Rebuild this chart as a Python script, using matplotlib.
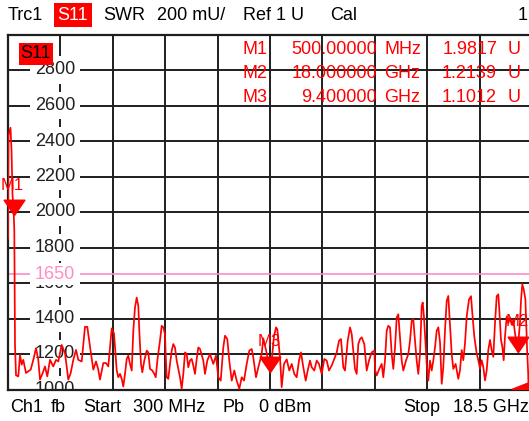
import matplotlib
matplotlib.use("Agg")
import matplotlib.pyplot as plt
from matplotlib.path import Path
import numpy as np

# ---------------- data ----------------
freq_ghz = [
    0.300, 0.317, 0.387, 0.422, 0.456, 0.500, 0.519, 0.543, 0.578, 0.658,
    0.717, 0.776, 0.831, 0.925, 1.005, 1.088, 1.179, 1.273, 1.352, 1.411,
    1.505, 1.585, 1.665, 1.759, 1.873, 1.967, 2.047, 2.165, 2.280, 2.394,
    2.478, 2.568, 2.662, 2.742, 2.860, 2.974, 3.054, 3.148, 3.263, 3.357,
    3.436, 3.495, 3.610, 3.704, 3.784, 3.902, 3.982, 4.076, 4.131, 4.190,
    4.249, 4.305, 4.364, 4.423, 4.478, 4.537, 4.597, 4.652, 4.711, 4.770,
    4.826, 4.860, 4.919, 4.965, 5.034, 5.118, 5.173, 5.232, 5.312, 5.381,
    5.430, 5.500, 5.579, 5.638, 5.694, 5.753, 5.777, 5.812, 5.868, 5.927,
    5.986, 6.041, 6.100, 6.159, 6.215, 6.274, 6.333, 6.389, 6.448, 6.507,
    6.562, 6.621, 6.680, 6.736, 6.795, 6.854, 6.910, 6.969, 7.083, 7.142,
    7.222, 7.316, 7.431, 7.524, 7.604, 7.688, 7.778, 7.837, 7.917, 7.986,
    8.070, 8.160, 8.244, 8.334, 8.417, 8.497, 8.591, 8.681, 8.765, 8.820,
    8.914, 8.994, 9.112, 9.167, 9.285, 9.348, 9.400, 9.469, 9.539, 9.609,
    9.654, 9.747, 9.806, 9.886, 9.980, 10.070, 10.154, 10.244, 10.327, 10.407,
    10.477, 10.557, 10.640, 10.710, 10.790, 10.849, 10.939, 11.022, 11.102, 11.196,
    11.286, 11.370, 11.449, 11.543, 11.633, 11.717, 11.797, 11.866, 11.946, 12.005,
    12.099, 12.179, 12.238, 12.293, 12.352, 12.411, 12.467, 12.526, 12.585, 12.675,
    12.759, 12.839, 12.932, 13.023, 13.053, 13.106, 13.195, 13.279, 13.335, 13.394,
    13.453, 13.509, 13.568, 13.627, 13.683, 13.742, 13.801, 13.856, 13.915, 13.974,
    14.030, 14.124, 14.204, 14.263, 14.322, 14.377, 14.436, 14.495, 14.551, 14.610,
    14.669, 14.704, 14.749, 14.784, 14.843, 14.898, 14.957, 15.016, 15.072, 15.131,
    15.190, 15.246, 15.305, 15.364, 15.419, 15.478, 15.537, 15.593, 15.652, 15.711,
    15.766, 15.847, 15.940, 15.999, 16.058, 16.114, 16.173, 16.232, 16.312, 16.381,
    16.427, 16.496, 16.579, 16.635, 16.694, 16.753, 16.809, 16.868, 16.927, 16.982,
    17.041, 17.100, 17.156, 17.215, 17.274, 17.330, 17.364, 17.423, 17.469, 17.517,
    17.562, 17.621, 17.677, 17.736, 17.795, 17.851, 17.910, 18.000, 18.083, 18.117,
    18.163, 18.212, 18.271, 18.330, 18.365, 18.400, 18.500,
]
swr_mu = [
    1850, 2430, 2475, 2350, 2100, 1982, 1900, 1250, 1080, 1074,
    1195, 1140, 1167, 1093, 1102, 1112, 1167, 1233, 1167, 1056,
    1093, 1130, 1074, 1167, 1130, 1167, 1158, 1251, 1205, 1056,
    1093, 1167, 1223, 1167, 1158, 1353, 1353, 1242, 1112, 1158,
    1112, 1056, 1149, 1149, 1130, 1344, 1316, 1107, 1069, 1088,
    1060, 1017, 1088, 1172, 1191, 1144, 1107, 1331, 1462, 1518,
    1471, 1331, 1144, 1097, 1163, 1219, 1209, 1116, 1107, 1088,
    1069, 1181, 1275, 1359, 1350, 1312, 1200, 1069, 1060, 1144,
    1219, 1256, 1237, 1163, 1116, 1069, 1004, 1088, 1209, 1200,
    1125, 1163, 1172, 1135, 1088, 1172, 1237, 1228, 1163, 1088,
    1163, 1200, 1144, 1191, 1069, 1050, 1237, 1303, 1284, 1163,
    1050, 1107, 1050, 1004, 1069, 1050, 1144, 1219, 1228, 1181,
    1069, 1125, 1200, 1288, 1205, 1150, 1101, 1180, 1300, 1350,
    1340, 1181, 1013, 1144, 1170, 1107, 1144, 1088, 1069, 1163,
    1209, 1125, 1050, 1107, 1163, 1125, 1107, 1163, 1144, 1088,
    1172, 1163, 1107, 1135, 1172, 1209, 1275, 1284, 1125, 1107,
    1275, 1350, 1312, 1219, 1116, 1088, 1256, 1284, 1294, 1256,
    1107, 1163, 1209, 1219, 1107, 1079, 1116, 1144, 1069, 1163,
    1331, 1359, 1350, 1200, 1116, 1237, 1406, 1424, 1294, 1163,
    1107, 1163, 1200, 1275, 1387, 1396, 1275, 1163, 1088, 1200,
    1471, 1490, 1406, 1312, 1144, 1050, 1163, 1107, 1163, 1237,
    1331, 1350, 1266, 1032, 1125, 1331, 1499, 1527, 1368, 1200,
    1116, 1144, 1060, 1108, 1222, 1165, 1260, 1412, 1507, 1526,
    1431, 1298, 1203, 1165, 1118, 1165, 1127, 1051, 1108, 1222,
    1279, 1222, 1184, 1374, 1526, 1536, 1450, 1279, 1241, 1165,
    1298, 1412, 1374, 1403, 1365, 1393, 1317, 1214, 1380, 1498,
    1593, 1564, 1507, 1222, 1100, 900, 900,
]

y_ticks = [1000, 1200, 1400, 1600, 1800, 2000, 2200, 2400, 2600, 2800]
limit_value = 1650

marker_names = ["M1", "M2", "M3"]
marker_freq = [0.5, 18.0, 9.4]
marker_value = [1981.7, 1213.9, 1101.2]
marker_freq_txt = ["500.00000", "18.000000", "9.400000"]
marker_unit = ["MHz", "GHz", "GHz"]
marker_val_txt = ["1.9817", "1.2139", "1.1012"]

wedge_f = [17.8, 18.5, 19.2]
wedge_v = [1000, 1045, 1000]

# ---------------- figure ----------------
plt.rcParams["font.family"] = ["Liberation Sans", "DejaVu Sans"]
FS = 13
W, H = 529, 421
fig = plt.figure(figsize=(W / 100, H / 100), dpi=100)
fig.patch.set_facecolor("white")

def fx(px):
    return px / W

def fy(py):
    return 1 - py / H

ax_left, ax_right, ax_top, ax_bot = 8, 532, 34.5, 389.5
ax = fig.add_axes([fx(ax_left), fy(ax_bot), (ax_right - ax_left) / W, (ax_bot - ax_top) / H])
ax.set_xlim(0.3, 18.5)
ax.set_ylim(1000, 3000)
ax.set_xticks(np.linspace(0.3, 18.5, 11))
ax.set_yticks(np.arange(1000, 3001, 200))
ax.tick_params(length=0, labelbottom=False, labelleft=False)
ax.set_axisbelow(True)
gcol = "#1e1e1e"
ax.grid(True, color=gcol, lw=1.4)
for s in ax.spines.values():
    s.set_color(gcol)
    s.set_linewidth(1.6)

red = "#ff0000"
pink = "#ff8cc6"

# y tick labels drawn inside the grid with white boxes
xlab = (55 - ax_left) / (ax_right - ax_left)
for v in y_ticks:
    ax.text(xlab, v, str(v), transform=ax.get_yaxis_transform(), ha="center", va="center",
            fontsize=FS, color="#202020", zorder=1.6, clip_on=True,
            bbox=dict(boxstyle="square,pad=0.28", fc="white", ec="none"))

# limit line
ax.axhline(limit_value, color=pink, lw=1.2, zorder=1.2)
ax.text(xlab, limit_value, str(limit_value), transform=ax.get_yaxis_transform(), ha="center",
        va="center", fontsize=FS, color=pink, zorder=1.7,
        bbox=dict(boxstyle="square,pad=0.12", fc="white", ec="none"))

# trace
ax.plot(freq_ghz, swr_mu, color=red, lw=1.25, zorder=3)

# markers (downward triangles, tip on the trace)
tri = Path([(-0.68, 1.0), (0.68, 1.0), (0.0, 0.0), (-0.68, 1.0)],
           [Path.MOVETO, Path.LINETO, Path.LINETO, Path.CLOSEPOLY])
ax.plot(marker_freq, marker_value, linestyle="none", marker=tri, markersize=22,
        color=red, zorder=4, clip_on=False)

# marker labels near the triangles
lab_pos = {"M1": (12, 185), "M2": (517, 322), "M3": (269, 342)}
for n in marker_names:
    px, py = lab_pos[n]
    fig.text(fx(px), fy(py), n, ha="center", va="center", fontsize=12, color=red, zorder=5)

# wedge at bottom right
ax.fill(wedge_f, wedge_v, color=red, zorder=4, clip_on=True)

# S11 tag inside the diagram
fig.text(fx(36), fy(54), "S11", ha="center", va="center", fontsize=FS, color="black",
         bbox=dict(boxstyle="square,pad=0.12", fc=red, ec="none"), zorder=6)

# marker table
rows_y = [50, 74, 98]
for i in range(3):
    y = fy(rows_y[i])
    fig.text(fx(268), y, marker_names[i], ha="right", va="center", fontsize=FS, color=red)
    fig.text(fx(377), y, marker_freq_txt[i], ha="right", va="center", fontsize=FS, color=red)
    fig.text(fx(384), y, marker_unit[i], ha="left", va="center", fontsize=FS, color=red)
    fig.text(fx(497), y, marker_val_txt[i], ha="right", va="center", fontsize=FS, color=red)
    fig.text(fx(508), y, "U", ha="left", va="center", fontsize=FS, color=red)

# header line
hy = fy(15)
fig.text(fx(8), hy, "Trc1", ha="left", va="center", fontsize=FS)
fig.text(fx(73), hy, "S11", ha="center", va="center", fontsize=FS, color="white",
         bbox=dict(boxstyle="square,pad=0.22", fc=red, ec="none"))
fig.text(fx(103), hy, "SWR", ha="left", va="center", fontsize=FS)
fig.text(fx(157), hy, "200 mU/", ha="left", va="center", fontsize=FS)
fig.text(fx(243), hy, "Ref 1 U", ha="left", va="center", fontsize=FS)
fig.text(fx(330), hy, "Cal", ha="left", va="center", fontsize=FS)
fig.text(fx(518), hy, "1", ha="left", va="center", fontsize=FS)

# footer line
by = fy(407)
for txt, px in [("Ch1", 10), ("fb", 51), ("Start", 83), ("300 MHz", 133), ("Pb", 222),
                ("0 dBm", 259), ("Stop", 403), ("18.5 GHz", 453)]:
    fig.text(fx(px), by, txt, ha="left", va="center", fontsize=FS)

fig.savefig("out.png", dpi=100, facecolor="white")
